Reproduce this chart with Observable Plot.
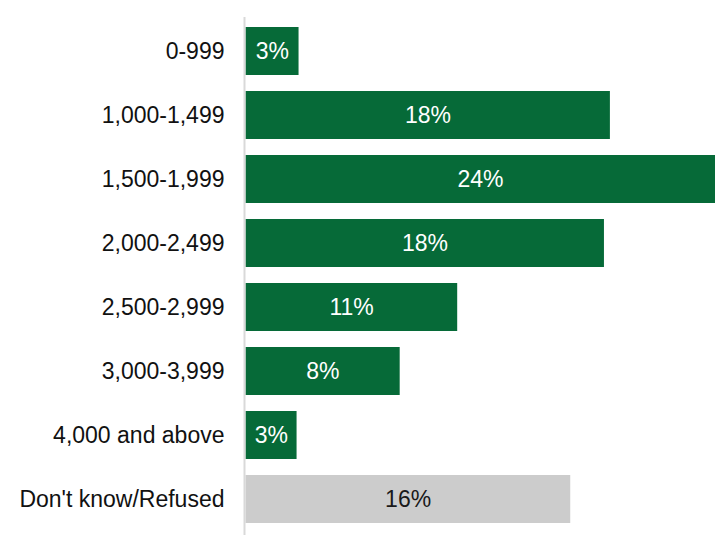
<!DOCTYPE html>
<html>
<head>
<meta charset="utf-8">
<script src="https://cdn.jsdelivr.net/npm/d3@7"></script>
<script src="https://cdn.jsdelivr.net/npm/@observablehq/plot@0.6"></script>
<style>
  html, body { margin: 0; padding: 0; background: #ffffff; }
  #chart { width: 717px; height: 537px; }
</style>
</head>
<body>
<div id="chart"></div>
<script>
const categories = ["0-999", "1,000-1,499", "1,500-1,999", "2,000-2,499", "2,500-2,999", "3,000-3,999", "4,000 and above", "Don't know/Refused"];
const values = [2.7, 18.4, 23.7, 18.1, 10.7, 7.8, 2.6, 16.4];
const labels = ["3%", "18%", "24%", "18%", "11%", "8%", "3%", "16%"];

const data = categories.map((c, i) => ({cat: c, value: values[i], label: labels[i]}));
const GREEN = "#066a38";
const GREY = "#cccccc";
const isDK = d => d.cat === "Don't know/Refused";

const chart = Plot.plot({
  width: 717,
  height: 537,
  marginLeft: 245,
  marginRight: 2,
  marginTop: 17,
  marginBottom: 5,
  style: {fontFamily: "'Liberation Sans', Arial, sans-serif", fontSize: "23px", background: "#ffffff", color: "#111"},
  x: {domain: [0, 23.7], axis: null},
  y: {domain: categories, paddingInner: 0.25, paddingOuter: 0.12, label: null},
  marks: [
    Plot.barX(data, {y: "cat", x: "value", fill: d => isDK(d) ? GREY : GREEN, insetLeft: 0.5}),
    Plot.ruleX([0], {stroke: "#d9d9d9", strokeWidth: 2, dx: -1, insetTop: 0, insetBottom: -3}),
    Plot.text(data, {y: "cat", x: d => d.value / 2, text: "label", fill: d => isDK(d) ? "#1a1a1a" : "#ffffff", fontSize: 23}),
    Plot.axisY({tickSize: 0, tickPadding: 21, fontSize: 23, fill: "#111", label: null})
  ]
});
document.getElementById("chart").appendChild(chart);
</script>
</body>
</html>
